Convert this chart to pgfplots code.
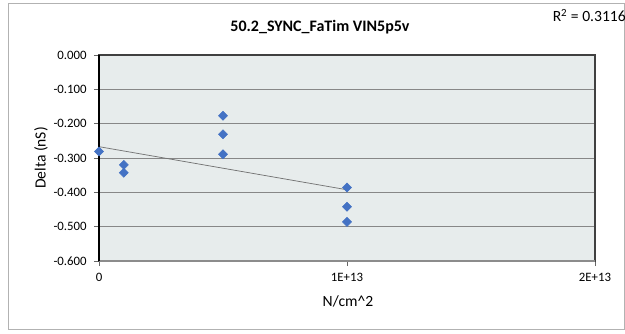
\documentclass[border=0pt]{standalone}
\usepackage{pgfplots}
\pgfplotsset{compat=1.18}
\usepackage{fontspec}
\setmainfont{Carlito}
\definecolor{plotbg}{HTML}{E7ECEC}
\definecolor{mk}{HTML}{4472C4}
\definecolor{gridc}{HTML}{878787}
\begin{document}
\begin{tikzpicture}
\useasboundingbox (0,0) rectangle (468.75pt,249.75pt);
\draw[draw=black!30, line width=0.75pt] (6pt,3pt) rectangle (468pt,246.75pt);
\begin{axis}[
  at={(74.25pt,54pt)}, anchor=south west,
  scale only axis, width=372pt, height=154.5pt,
  xmin=0, xmax=2e13, ymin=-0.6, ymax=0,
  scaled x ticks=false, scaled y ticks=false,
  xtick={0,1e13,2e13}, xticklabels={0,1E+13,2E+13},
  ytick={-0.6,-0.5,-0.4,-0.3,-0.2,-0.1,0},
  yticklabels={-0.600,-0.500,-0.400,-0.300,-0.200,-0.100,0.000},
  tick align=outside, major tick length=3.75pt,
  xtick pos=bottom, ytick pos=left,
  tick style={draw=black!60, line width=0.6pt},
  ticklabel style={font=\fontsize{9.6}{11}\selectfont},
  yticklabel style={xshift=-2pt},
  xticklabel style={yshift=-2pt},
  ymajorgrids, grid style={draw=gridc, line width=0.75pt},
  axis background/.style={fill=plotbg},
  axis line style={draw=black!75, line width=0.8pt},
  clip=false,
]
\addplot[draw=black!55, line width=0.55pt] coordinates {(0,-0.267) (1e13,-0.3925)};
\addplot[only marks, mark=diamond*, mark size=3.4pt, mark options={xscale=1.33, fill=mk, draw=mk}] coordinates {
(0,-0.281)
(1e12,-0.320) (1e12,-0.343)
(5e12,-0.177) (5e12,-0.231) (5e12,-0.289)
(1e13,-0.386) (1e13,-0.442) (1e13,-0.486)
};
\draw[draw=black!45, line width=1.5pt] (rel axis cs:0,0) -- (rel axis cs:1,0);
\draw[draw=black, line width=0.8pt] (rel axis cs:0,0) -- (rel axis cs:0,1);
\end{axis}
\node[anchor=base, font=\fontsize{12}{14}\selectfont\bfseries] at (240pt,225.75pt) {50.2\_SYNC\_FaTim VIN5p5v};
\node[anchor=base east, inner sep=0pt, font=\fontsize{11.7}{14}\selectfont] at (469.5pt,233.25pt) {R\textsuperscript{2} = 0.3116};
\node[anchor=base, inner sep=0pt, font=\fontsize{11.7}{14}\selectfont] at (261pt,20.25pt) {N/cm\textasciicircum 2};
\node[rotate=90, inner sep=0pt, font=\fontsize{11.7}{14}\selectfont] at (30.75pt,131.25pt) {Delta (nS)};
\end{tikzpicture}
\end{document}
